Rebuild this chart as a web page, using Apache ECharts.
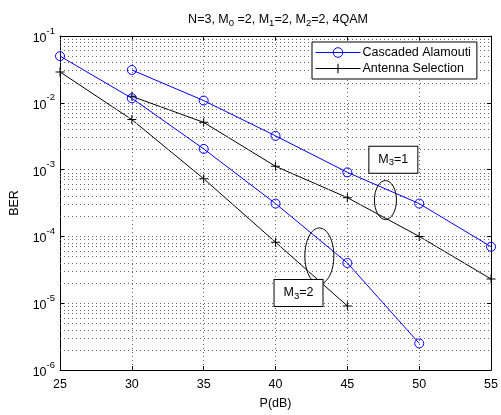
<!DOCTYPE html>
<html>
<head>
<meta charset="utf-8">
<script src="https://cdn.jsdelivr.net/npm/echarts@6/dist/echarts.min.js"></script>
<style>
html,body{margin:0;padding:0;background:#fff;}
#chart{width:501px;height:415px;}
</style>
</head>
<body>
<div id="chart"></div>
<script>
// P(dB) points
var pM1 = [30, 35, 40, 45, 50, 55];
var pM2 = [25, 30, 35, 40, 45, 50];
var pAsM2 = [25, 30, 35, 40, 45];
// BER values
var alamoutiM1 = [0.031, 0.0108, 0.0032, 0.00091, 0.00031, 7.0e-5];
var alamoutiM2 = [0.050, 0.0117, 0.00204, 0.00031, 4.0e-5, 2.5e-6];
var selectionM1 = [0.0125, 0.0051, 0.00112, 0.00038, 1.0e-4, 2.3e-5];
var selectionM2 = [0.029, 0.0056, 0.00073, 8.2e-5, 9.1e-6];
// minor grid lines of the log axis
var decades = [-6, -5, -4, -3, -2];
var minorSteps = [2, 3, 4, 5, 6, 7, 8, 9];
// annotations, in data coordinates
var ellipseM1 = {x: 47.65, y: 3.5e-4};
var ellipseM2 = {x: 43.05, y: 5.1e-5};
var labelM1 = {x: 48.2, y: 1.4e-3};
var labelM2 = {x: 41.6, y: 1.42e-5};

var FONT = 'Liberation Sans, Arial, sans-serif';
var plusPath = 'path://M4,0H5V4H9V5H5V9H4V5H0V4H4Z';
var DOT = {type: [1, 3], color: '#666', width: 1};

function pairs(xs, ys){
	var out = [];
	for (var i = 0; i < xs.length; i++) out.push([xs[i], ys[i]]);
	return out;
}

// minor lines go on a hidden linear axis that holds log10(BER)
var minorLines = [];
decades.forEach(function(d){
	minorSteps.forEach(function(k){ minorLines.push({yAxis: d + Math.log(k) / Math.LN10}); });
});

function expLabel(v){
	var e = Math.round(Math.log(v) / Math.LN10);
	return '{b|10}{s|' + e + '}';
}

var blueLine = {
	type: 'line', name: 'Cascaded Alamouti',
	symbol: 'circle', symbolSize: 9,
	lineStyle: {color: '#0000ff', width: 1},
	itemStyle: {color: 'rgba(0,0,0,0)', borderColor: '#0000ff', borderWidth: 1},
	emphasis: {disabled: true}, animation: false, z: 5
};
var blackLine = {
	type: 'line', name: 'Antenna Selection',
	symbol: plusPath, symbolSize: 9,
	lineStyle: {color: '#000', width: 1},
	itemStyle: {color: '#000', borderWidth: 0},
	emphasis: {disabled: true}, animation: false, z: 4
};
var frameTick = {inside: true, length: 4, lineStyle: {color: '#000'}};

var chart = echarts.init(document.getElementById('chart'));
chart.setOption({
	backgroundColor: '#fff',
	animation: false,
	textStyle: {fontFamily: FONT},
	title: {
		text: 'N=3, M{sub|0} =2, M{sub|1}=2, M{sub|2}=2, 4QAM',
		left: 273, textAlign: 'center', top: 6,
		textStyle: {
			fontSize: 12.5, fontWeight: 'normal', color: '#000', fontFamily: FONT,
			rich: {sub: {fontSize: 9.5, verticalAlign: 'bottom', padding: [7, 0, 0, 0], fontFamily: FONT}}
		}
	},
	legend: {
		data: ['Cascaded Alamouti', 'Antenna Selection'],
		orient: 'vertical', left: 312, top: 42, z: 10,
		padding: [4, 6, 4, 3],
		itemGap: 3, itemWidth: 45, itemHeight: 12,
		backgroundColor: '#fff', borderColor: '#000', borderWidth: 1,
		itemStyle: {borderWidth: 1},
		lineStyle: {width: 1},
		textStyle: {fontSize: 12.5, color: '#000', fontFamily: FONT, padding: [0, 0, 0, -3]},
		selectedMode: false
	},
	grid: {left: 56.5, right: 8.5, top: 36, bottom: 36},
	xAxis: [{
		type: 'value', min: 25, max: 55, interval: 5,
		name: 'P(dB)', nameLocation: 'middle', nameGap: 27,
		nameTextStyle: {fontSize: 12.5, color: '#000', fontFamily: FONT},
		axisLine: {show: true, lineStyle: {color: '#000'}},
		axisTick: frameTick,
		axisLabel: {fontSize: 12.5, color: '#000', margin: 8, fontFamily: FONT},
		splitLine: {show: true, lineStyle: DOT}
	}, {
		type: 'value', min: 25, max: 55, interval: 5, position: 'top',
		axisLine: {show: true, lineStyle: {color: '#000'}},
		axisTick: frameTick,
		axisLabel: {show: false}, splitLine: {show: false}
	}],
	yAxis: [{
		type: 'log', logBase: 10, min: 1e-6, max: 1e-1,
		name: 'BER', nameLocation: 'middle', nameGap: 39, nameRotate: 90,
		nameTextStyle: {fontSize: 12.5, color: '#000', fontFamily: FONT},
		axisLine: {show: true, lineStyle: {color: '#000'}},
		axisTick: frameTick,
		axisLabel: {
			formatter: expLabel, margin: 5,
			rich: {
				b: {fontSize: 12.5, color: '#000', fontFamily: FONT, padding: [5, 0, 0, 0]},
				s: {fontSize: 9.5, color: '#000', fontFamily: FONT, verticalAlign: 'top', padding: [0, 0, 10, 0]}
			}
		},
		splitLine: {show: true, lineStyle: DOT}
	}, {
		type: 'log', logBase: 10, min: 1e-6, max: 1e-1, position: 'right',
		axisLine: {show: true, lineStyle: {color: '#000'}},
		axisTick: frameTick,
		axisLabel: {show: false}, splitLine: {show: false}
	}, {
		type: 'value', min: -6, max: -1, show: false
	}],
	series: [
		{
			type: 'line', yAxisIndex: 2, data: [[25, -1]], symbol: 'none',
			lineStyle: {opacity: 0}, silent: true, z: 1,
			markLine: {
				silent: true, symbol: 'none', label: {show: false}, animation: false,
				lineStyle: DOT,
				emphasis: {disabled: true},
				data: minorLines
			}
		},
		Object.assign({}, blueLine, {data: pairs(pM1, alamoutiM1)}),
		Object.assign({}, blueLine, {data: pairs(pM2, alamoutiM2)}),
		Object.assign({}, blackLine, {data: pairs(pM1, selectionM1)}),
		Object.assign({}, blackLine, {data: pairs(pAsM2, selectionM2)})
	]
});

// annotations placed from data coordinates
function px(p){ return chart.convertToPixel({xAxisIndex: 0, yAxisIndex: 0}, [p.x, p.y]); }
var e1 = px(ellipseM1), e2 = px(ellipseM2), l1 = px(labelM1), l2 = px(labelM2);
function boxLabel(c, txt){
	return {
		type: 'text', x: c[0], y: c[1], z: 20,
		style: {
			text: 'M{s|3}=' + txt, fill: '#000', align: 'center', verticalAlign: 'middle',
			fontSize: 12.5, fontFamily: FONT,
			backgroundColor: '#fff', borderColor: '#000', borderWidth: 1,
			padding: [4, 9, 5, 9],
			rich: {s: {fontSize: 9.5, fontFamily: FONT, verticalAlign: 'bottom', padding: [7, 0, 0, 0]}}
		}
	};
}
chart.setOption({
	graphic: [
		{type: 'ellipse', shape: {cx: e1[0], cy: e1[1], rx: 11, ry: 19.5}, style: {fill: 'none', stroke: '#000', lineWidth: 1}, z: 20},
		{type: 'ellipse', shape: {cx: e2[0], cy: e2[1], rx: 14.5, ry: 28}, style: {fill: 'none', stroke: '#000', lineWidth: 1}, z: 20},
		boxLabel(l1, '1'),
		boxLabel(l2, '2')
	]
});
</script>
</body>
</html>
